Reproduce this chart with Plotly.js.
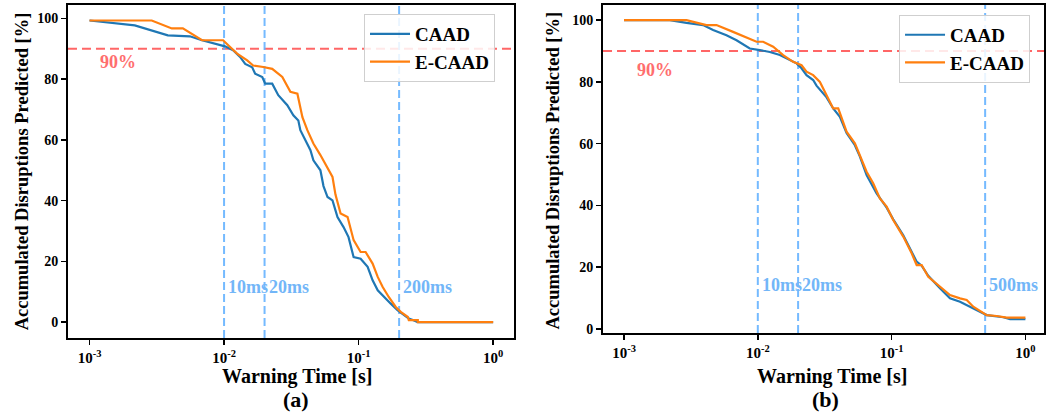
<!DOCTYPE html>
<html><head><meta charset="utf-8">
<script src="https://cdn.plot.ly/plotly-3.0.1.min.js"></script>
<style>html,body{margin:0;padding:0;background:#fff}#chart{width:1046px;height:414px}</style>
</head><body><div id="chart"></div>
<script>
// ---- data ----
const seriesNames = ['CAAD', 'E-CAAD'];
const panelLabels = ['(a)', '(b)'];
const xTickVals = [0.001, 0.01, 0.1, 1];
const xTickText = ['10<sup>-3</sup>', '10<sup>-2</sup>', '10<sup>-1</sup>', '10<sup>0</sup>'];
const yTickVals = [0, 20, 40, 60, 80, 100];
const thresholdPct = 90;
const markersA = [0.01, 0.02, 0.2];
const markerLabelsA = ['10ms', '20ms', '200ms'];
const markersB = [0.01, 0.02, 0.5];
const markerLabelsB = ['10ms', '20ms', '500ms'];

const caadA_x = [0.001,0.00217,0.00382,0.00557,0.00686,0.00966,0.01016,0.01167,0.01315,0.01436,0.01618,0.01702,0.01923,0.02023,0.0228,0.02529,0.02951,0.03273,0.03565,0.0369,0.04018,0.04385,0.04613,0.052,0.05483,0.05875,0.06397,0.06966,0.07727,0.08414,0.09183,0.1035,0.1167,0.1271,0.1387,0.1538,0.1734,0.1954,0.2168,0.236,0.2529,0.2754,1.0];
const caadA_y = [99.3,97.7,94.4,94.1,92.8,91.1,90.8,89.5,87.3,85,83.9,81.8,80.7,78.5,78.5,74.7,71.4,68.1,66.4,63.2,59.9,56.6,53.3,50,44.8,41.2,40.1,34.6,31.3,28,21.4,20.9,18.2,13.8,10.5,8.3,6.1,3.9,2.3,1.2,0.7,0,0];
const ecaadA_x = [0.001,0.0029,0.00409,0.00494,0.00686,0.00984,0.01109,0.0125,0.01486,0.01645,0.01954,0.0228,0.0271,0.03112,0.03508,0.03822,0.04159,0.04613,0.052,0.05875,0.06397,0.0673,0.07345,0.08279,0.09183,0.1035,0.1127,0.1271,0.1387,0.151,0.1675,0.1888,0.2056,0.2323,0.236,0.2754,0.2754,1.0];
const ecaadA_y = [99.3,99.3,96.7,96.7,92.8,92.8,90.6,88.4,86.2,84.5,84,83.4,80.7,75.8,75.2,67.5,63.2,58.8,55,50.6,47.8,42,35.8,34.6,27,23.1,23.1,19.3,14.9,11.6,8.3,5,3.4,1.7,0.7,0.7,0,0];

const caadB_x = [0.001,0.0022,0.00293,0.0039,0.00463,0.00583,0.00693,0.00871,0.01035,0.0123,0.01461,0.0164,0.01947,0.02122,0.02312,0.02592,0.02746,0.03265,0.03659,0.04105,0.04605,0.05315,0.05795,0.06501,0.07722,0.0918,0.1028,0.1222,0.1412,0.1539,0.1677,0.1879,0.2298,0.273,0.3244,0.4077,0.4573,0.5136,0.6838,0.7674,1.0];
const caadB_y = [100,100,99.1,98.4,96.8,95.1,93.5,90.8,90.3,89.7,88.7,87.6,86,84.4,82.2,80.6,78.8,75,71.4,68.7,63.5,59.5,55.8,49.8,43.9,39.3,35.5,30.3,24.8,21.8,20.5,17.2,13.2,9.9,8.8,6.8,5.6,4.5,3.8,3.2,3.2];
const ecaadB_x = [0.001,0.00293,0.00413,0.00491,0.00653,0.00871,0.00978,0.01096,0.01302,0.01546,0.01836,0.02122,0.02312,0.02592,0.02911,0.03265,0.03659,0.0399,0.04605,0.05315,0.05795,0.06501,0.07282,0.08177,0.0918,0.1028,0.1222,0.1412,0.1539,0.1677,0.1879,0.2298,0.273,0.3244,0.364,0.4077,0.4842,0.5136,0.6096,0.6838,0.7244,1.0];
const ecaadB_y = [100,100,98.4,98.4,96.2,94.1,93,93,91.4,88.7,86.5,85.4,83.3,82.2,80,75.7,71.4,71.4,63.9,60.1,56.3,50.9,47.2,42.3,39.6,35.3,29.9,24.5,20.7,20.7,16.9,13.7,11,9.9,9.4,7.2,5.1,4.5,4.2,4,3.7,3.7];

// ---- styles ----
const FONT = '"Liberation Serif", "Times New Roman", serif';
const BLUE = '#1f77b4', ORANGE = '#ff7f0e';
const RED = 'rgba(255,85,85,0.9)', LBLUE = 'rgba(102,178,255,0.9)';
const TXT_RED = '#ff6e6e', TXT_BLUE = '#72b6f8';

function line(x, y, name, color, xa, ya, leg) {
  return {x: x, y: y, name: name, type: 'scatter', mode: 'lines',
    line: {color: color, width: 2.2}, xaxis: xa, yaxis: ya, legend: leg};
}
const data = [
  line(caadA_x, caadA_y, seriesNames[0], BLUE, 'x', 'y', 'legend'),
  line(ecaadA_x, ecaadA_y, seriesNames[1], ORANGE, 'x', 'y', 'legend'),
  line(caadB_x, caadB_y, seriesNames[0], BLUE, 'x2', 'y2', 'legend2'),
  line(ecaadB_x, ecaadB_y, seriesNames[1], ORANGE, 'x2', 'y2', 'legend2')
];

function xax(domain, range, anchor) {
  return {domain: domain, range: range, anchor: anchor, type: 'log',
    tickvals: xTickVals, ticktext: xTickText, ticks: 'outside', ticklen: 5, tickwidth: 1.5,
    tickcolor: '#000', showline: true, linewidth: 2, linecolor: '#000', mirror: true,
    showgrid: false, zeroline: false,
    tickfont: {family: FONT, size: 15, color: '#000', weight: 'bold'}};
}
function yax(domain, range, anchor) {
  return {domain: domain, range: range, anchor: anchor,
    tickvals: yTickVals, ticks: 'outside', ticklen: 5, tickwidth: 1.5,
    tickcolor: '#000', showline: true, linewidth: 2, linecolor: '#000', mirror: true,
    showgrid: false, zeroline: false,
    tickfont: {family: FONT, size: 14, color: '#000', weight: 'bold'}};
}

const shapes = [];
const annotations = [];
function panel(xr, yr, markers, labels, msY, pctX, pctY) {
  shapes.push({type: 'line', xref: xr + ' domain', x0: 0, x1: 1, yref: yr, y0: thresholdPct, y1: thresholdPct,
    line: {color: RED, width: 2, dash: '9px,5px'}, layer: 'below'});
  markers.forEach((m, i) => {
    shapes.push({type: 'line', xref: xr, x0: m, x1: m, yref: yr + ' domain', y0: 0, y1: 1,
      line: {color: LBLUE, width: 2, dash: '8px,4px'}, layer: 'below'});
    annotations.push({xref: xr, yref: yr, x: Math.log10(m), y: msY, text: labels[i],
      xanchor: 'left', yanchor: 'middle', xshift: 2, showarrow: false,
      font: {family: FONT, size: 18, color: TXT_BLUE, weight: 'bold'}});
  });
  annotations.push({xref: xr, yref: yr, x: pctX, y: pctY, text: thresholdPct + '%',
    xanchor: 'left', yanchor: 'middle', showarrow: false,
    font: {family: FONT, size: 18, color: TXT_RED, weight: 'bold'}});
}
panel('x', 'y', markersA, markerLabelsA, 11.5, -2.94, 85.5);
panel('x2', 'y2', markersB, markerLabelsB, 14.2, -2.92, 83.8);

function txt(x, y, s, size, angle) {
  annotations.push({xref: 'paper', yref: 'paper', x: x, y: y, text: s, showarrow: false,
    xanchor: 'center', yanchor: 'middle', textangle: angle || 0,
    font: {family: FONT, size: size, color: '#000', weight: 'bold'}});
}
txt(0.284, 0.091, 'Warning Time [s]', 20);
txt(0.795, 0.091, 'Warning Time [s]', 20);
txt(0.283, 0.035, panelLabels[0], 22);
txt(0.789, 0.035, panelLabels[1], 22);
txt(0.021, 0.586, 'Accumulated Disruptions Predicted [%]', 18.5, -90);
txt(0.5287, 0.588, 'Accumulated Disruptions Predicted [%]', 18.5, -90);

const legendStyle = (x, y) => ({x: x, y: y, xanchor: 'left', yanchor: 'top',
  bgcolor: 'rgba(255,255,255,0.85)', bordercolor: '#cfcfcf', borderwidth: 1,
  font: {family: FONT, size: 19, color: '#000', weight: 'bold'}, itemwidth: 40});

const layout = {
  width: 1046, height: 414, margin: {l: 0, r: 0, t: 0, b: 0},
  paper_bgcolor: '#fff', plot_bgcolor: '#fff',
  font: {family: FONT, color: '#000', weight: 'bold'},
  xaxis: xax([0.0650, 0.4914], [-3.16, 0.155], 'y'),
  yaxis: yax([0.1836, 0.9879], [-5.2, 104.4], 'x'),
  xaxis2: xax([0.5765, 0.9981], [-3.157, 0.139], 'y2'),
  yaxis2: yax([0.1957, 0.9879], [-1.3, 104.9], 'x2'),
  legend: legendStyle(0.348, 0.966),
  legend2: legendStyle(0.8595, 0.964),
  shapes: shapes, annotations: annotations
};
Plotly.newPlot('chart', data, layout, {staticPlot: true, displayModeBar: false});
</script></body></html>
